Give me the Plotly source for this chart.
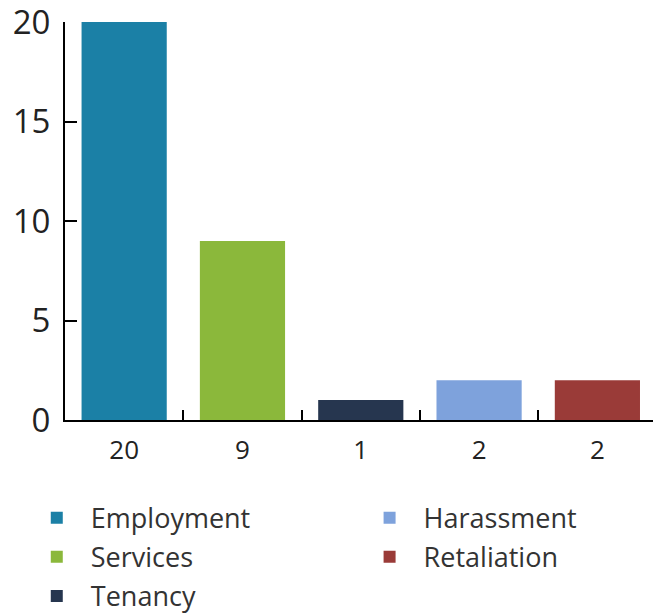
import plotly.graph_objects as go

categories = ["Employment", "Services", "Tenancy", "Harassment", "Retaliation"]
values = [20, 9, 1, 2, 2]
tick_labels = ["20", "9", "1", "2", "2"]
colors = ["#1b80a6", "#8bb83b", "#26364f", "#7ea2dc", "#9a3b38"]
legend_ids = ["legend", "legend", "legend", "legend2", "legend2"]

FONT = "Open Sans, Noto Sans, sans-serif"
NB = "\u00a0\u00a0"

fig = go.Figure()
for cat, val, col, lg in zip(categories, values, colors, legend_ids):
    fig.add_trace(go.Bar(
        x=[cat], y=[val], name=NB + cat, marker=dict(color=col, line=dict(width=0)),
        legend=lg, legendgroup=cat,
    ))

fig.update_layout(
    width=653, height=613,
    margin=dict(l=65, r=0, t=22, b=193, autoexpand=False),
    paper_bgcolor="white", plot_bgcolor="white",
    barmode="overlay", bargap=0.28,
    font=dict(family=FONT, color="#222222"),
    showlegend=True,
    legend=dict(x=-0.048, y=-0.185, xanchor="left", yanchor="top",
                font=dict(size=27, color="#333333"), tracegroupgap=1,
                traceorder="grouped", bgcolor="rgba(0,0,0,0)"),
    legend2=dict(x=0.518, y=-0.185, xanchor="left", yanchor="top",
                 font=dict(size=27, color="#333333"), tracegroupgap=1,
                 traceorder="grouped", bgcolor="rgba(0,0,0,0)"),
)

fig.update_xaxes(
    type="category", categoryorder="array", categoryarray=categories,
    range=[-0.5, 4.47], automargin=False,
    tickmode="array", tickvals=categories, ticktext=tick_labels,
    tickson="boundaries", ticks="inside", ticklen=10, tickwidth=1.5, tickcolor="black",
    showline=True, linecolor="black", linewidth=2,
    showgrid=False, zeroline=False,
    tickfont=dict(size=26, color="#222222"),
    ticklabelstandoff=6,
)
fig.update_yaxes(
    range=[0, 20], tickvals=[0, 5, 10, 15, 20], automargin=False,
    ticks="inside", ticklen=12, tickwidth=1.5, tickcolor="black",
    showline=True, linecolor="black", linewidth=2,
    showgrid=False, zeroline=False,
    tickfont=dict(size=33, color="#222222"),
    ticklabelstandoff=6, ticklabeloverflow="allow",
)

fig.write_html(
    "out.html",
    config={"displayModeBar": False},
    post_script="document.body.style.margin='0';document.body.style.overflow='hidden';",
)
